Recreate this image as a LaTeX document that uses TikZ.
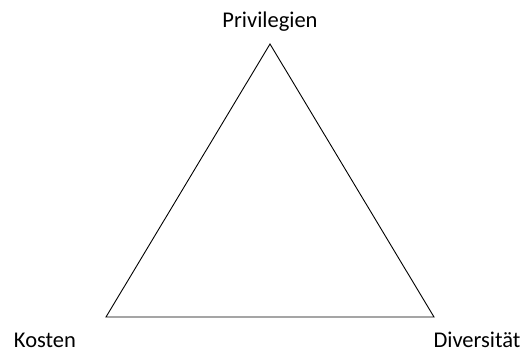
\documentclass[tikz,border=0pt]{standalone}
\usepackage{fontspec}
\setmainfont{Carlito}
\begin{document}
\begin{tikzpicture}[x=1pt,y=-1pt,
  lbl/.style={inner sep=0pt,anchor=base,font=\fontsize{22.5}{27}\selectfont}]
\useasboundingbox (0,0) rectangle (526,352);
\coordinate (T) at (270,44);
\coordinate (L) at (106,317);
\coordinate (R) at (434,317);
\draw[line width=0.9pt,line join=miter] (T) -- (R) -- (L) -- cycle;
\node[lbl] (p) at (270,28) {Privilegien};
\node[lbl] (k) at (45,347) {Kosten};
\node[lbl] (d) at (477,347.5) {Diversität};
\end{tikzpicture}
\end{document}
